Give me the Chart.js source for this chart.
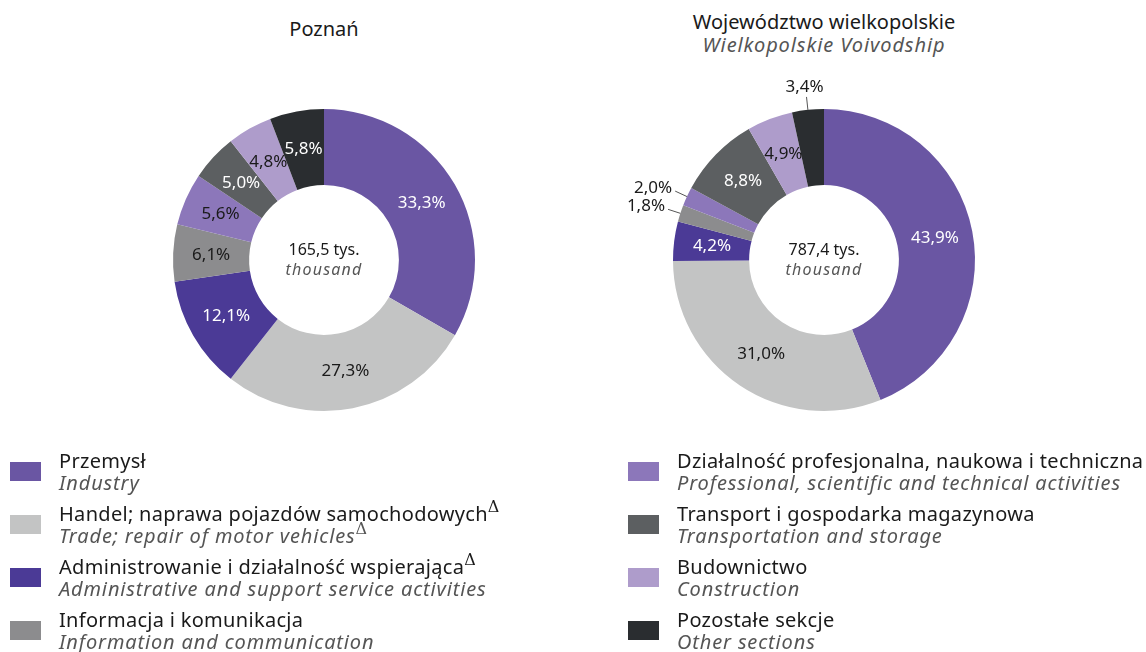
<!DOCTYPE html>
<html>
<head>
<meta charset="utf-8">
<script src="https://cdn.jsdelivr.net/npm/chart.js@4/dist/chart.umd.min.js"></script>
<style>
  body { margin: 0; background: #fff; font-family: "Noto Sans", sans-serif; color: #1a1a1a; }
  #page { position: relative; width: 1146px; height: 652px; overflow: hidden; }
  .box { position: absolute; top: 60px; width: 600px; height: 400px; }
  .ttl { position: absolute; width: 500px; text-align: center; font-size: 20px; line-height: 23px; }
  .ttl i { color: #555; letter-spacing: 0.9px; }
  .leg { position: absolute; top: 450px; }
  .row { position: relative; height: 53px; padding-left: 49px; }
  .sw { position: absolute; left: 0; top: 12px; width: 31px; height: 19px; }
  .pl { font-size: 20px; line-height: 22px; white-space: nowrap; letter-spacing: 0.3px; }
  .en { font-size: 20px; line-height: 22px; color: #555; font-style: italic; white-space: nowrap; letter-spacing: 0.85px; }
  sup { font-family: "DejaVu Serif", serif; font-style: normal; font-size: 16px; line-height: 0; vertical-align: 9px; letter-spacing: 0; }
</style>
</head>
<body>
<div id="page">
  <div class="ttl" style="left:74px; top:17px;">Poznań</div>
  <div class="ttl" style="left:574px; top:10px;">Województwo wielkopolskie<br><i>Wielkopolskie Voivodship</i></div>
  <div class="box" style="left:24px;"><canvas id="poznan"></canvas></div>
  <div class="box" style="left:524px;"><canvas id="wlkp"></canvas></div>
  <div class="leg" id="legLeft" style="left:10px;"></div>
  <div class="leg" id="legRight" style="left:628px;"></div>
</div>
<script>
// sections (clockwise from 12 o'clock)
const sectionsPl = ["Przemysł", "Handel; naprawa pojazdów samochodowych", "Administrowanie i działalność wspierająca", "Informacja i komunikacja",
  "Działalność profesjonalna, naukowa i techniczna", "Transport i gospodarka magazynowa", "Budownictwo", "Pozostałe sekcje"]
const sectionsEn = ["Industry", "Trade; repair of motor vehicles", "Administrative and support service activities", "Information and communication",
  "Professional, scientific and technical activities", "Transportation and storage", "Construction", "Other sections"]
const deltaPl = [false, true, true, false, false, false, false, false]
const deltaEn = [false, true, false, false, false, false, false, false]

// share in %
const poznanValues = [33.3, 27.3, 12.1, 6.1, 5.6, 5.0, 4.8, 5.8]
const wlkpValues = [43.9, 31.0, 4.2, 1.8, 2.0, 8.8, 4.9, 3.4]
const poznanTotal = "165,5"
const wlkpTotal = "787,4"

const colors = ['#6a56a3', '#c3c4c4', '#4b3a96', '#8c8c8e', '#8c77ba', '#5c5f61', '#ae9ccb', '#2a2d30']
const labelColors = ['#fff', '#1a1a1a', '#fff', '#1a1a1a', '#1a1a1a', '#fff', '#1a1a1a', '#fff']
const FONT = '"Noto Sans", sans-serif'

const fmt = v => v.toFixed(1).replace('.', ',') + '%'

// slice labels + centre text
const sliceLabels = {
  id: 'sliceLabels',
  afterDatasetsDraw(chart, args, opts) {
    const ctx = chart.ctx
    const meta = chart.getDatasetMeta(0)
    const values = chart.data.datasets[0].data
    ctx.save()
    ctx.font = '17px ' + FONT
    meta.data.forEach((arc, i) => {
      const p = arc.getProps(['x', 'y', 'startAngle', 'endAngle', 'innerRadius', 'outerRadius'], true)
      const mid = (p.startAngle + p.endAngle) / 2
      const cos = Math.cos(mid), sin = Math.sin(mid)
      const txt = fmt(values[i])
      if (values[i] >= 4) {
        const r = (p.innerRadius + p.outerRadius) / 2
        ctx.fillStyle = labelColors[i]
        ctx.textAlign = 'center'
        ctx.textBaseline = 'middle'
        ctx.fillText(txt, p.x + cos * r, p.y + sin * r)
      } else {
        const x0 = p.x + cos * p.outerRadius, y0 = p.y + sin * p.outerRadius
        const x1 = p.x + cos * (p.outerRadius + 13), y1 = p.y + sin * (p.outerRadius + 13)
        ctx.strokeStyle = '#555'
        ctx.lineWidth = 1
        ctx.beginPath()
        ctx.moveTo(x0, y0)
        ctx.lineTo(x1, y1)
        ctx.stroke()
        ctx.fillStyle = '#1a1a1a'
        if (Math.abs(cos) > Math.abs(sin)) {
          ctx.textAlign = cos < 0 ? 'right' : 'left'
          ctx.textBaseline = 'middle'
          ctx.fillText(txt, x1 + (cos < 0 ? -3 : 3), y1 - 3)
        } else {
          ctx.textAlign = 'center'
          ctx.textBaseline = 'bottom'
          ctx.fillText(txt, x1 - 2, y1 - 1)
        }
      }
    })
    const c = meta.data[0]
    ctx.textAlign = 'center'
    ctx.textBaseline = 'middle'
    ctx.fillStyle = '#1a1a1a'
    ctx.font = '16px ' + FONT
    ctx.fillText(opts.total + ' tys.', c.x, c.y - 10)
    ctx.fillStyle = '#555'
    ctx.font = 'italic 16px ' + FONT
    ctx.letterSpacing = '1.2px'
    ctx.fillText('thousand', c.x, c.y + 10)
    ctx.restore()
  }
}

function doughnut(id, values, total) {
  new Chart(document.getElementById(id), {
    type: 'doughnut',
    data: {
      labels: sectionsPl,
      datasets: [{ data: values, backgroundColor: colors, borderColor: '#fff', borderWidth: 0 }]
    },
    options: {
      responsive: true,
      maintainAspectRatio: false,
      animation: false,
      cutout: '49.6%',
      layout: { padding: 49 },
      plugins: {
        legend: { display: false },
        tooltip: { enabled: false },
        sliceLabels: { total: total }
      }
    },
    plugins: [sliceLabels]
  })
}

doughnut('poznan', poznanValues, poznanTotal)
doughnut('wlkp', wlkpValues, wlkpTotal)

function legend(el, from, to) {
  let html = ''
  for (let i = from; i < to; i++) {
    const dp = deltaPl[i] ? '<sup>&Delta;</sup>' : ''
    const de = deltaEn[i] ? '<sup>&Delta;</sup>' : ''
    html += `
      <div class="row">
        <div class="sw" style="background:${colors[i]}"></div>
        <div class="pl">${sectionsPl[i]}${dp}</div>
        <div class="en">${sectionsEn[i]}${de}</div>
      </div>`
  }
  document.getElementById(el).innerHTML = html
}
legend('legLeft', 0, 4)
legend('legRight', 4, 8)
</script>
</body>
</html>
